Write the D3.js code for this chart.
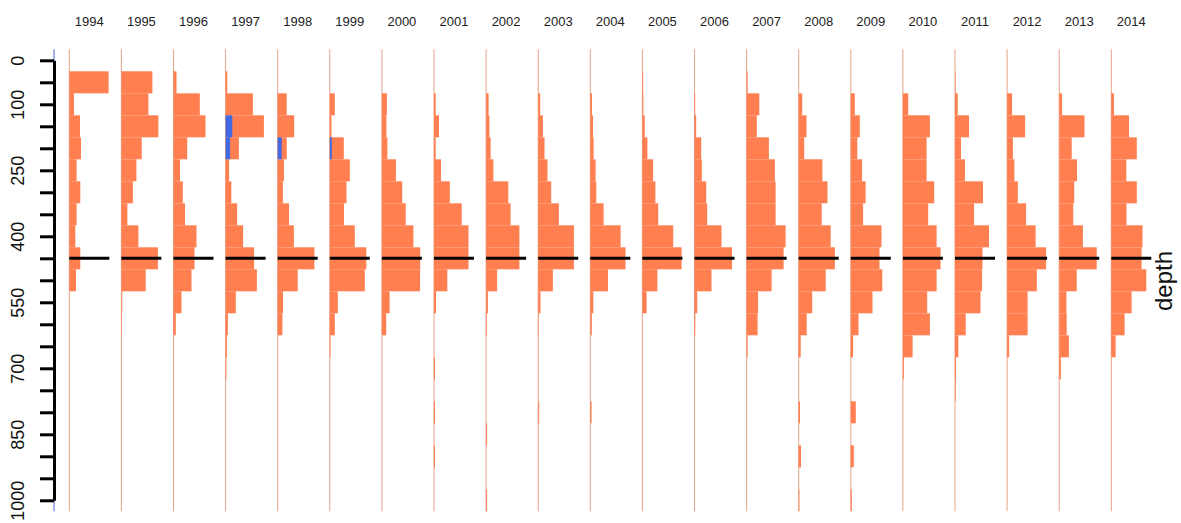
<!DOCTYPE html>
<html>
<head>
<meta charset="utf-8">
<script src="https://cdn.jsdelivr.net/npm/d3@7"></script>
<style>
  html, body { margin: 0; padding: 0; background: #ffffff; }
  svg { display: block; font-family: "Liberation Sans", Arial, Helvetica, sans-serif; }
</style>
</head>
<body>
<svg id="chart" width="1181" height="523"></svg>
<script>
// Survey years, one profile column each
const years = [1994, 1995, 1996, 1997, 1998, 1999, 2000, 2001, 2002, 2003, 2004,
               2005, 2006, 2007, 2008, 2009, 2010, 2011, 2012, 2013, 2014];

// Depth bin centres (m); each bin is 50 m tall
const depthBins = [50, 100, 150, 200, 250, 300, 350, 400, 450, 500,
                   550, 600, 650, 700, 750, 800, 850, 900, 950, 1000];

// Axis ticks and the subset that carries a label
const depthTicks = [0, 50, 100, 150, 200, 250, 300, 350, 400, 450, 500,
                    550, 600, 650, 700, 750, 800, 850, 900, 950, 1000];
const depthLabels = [0, 100, 250, 400, 550, 700, 850, 1000];

// Reference depth drawn across every column
const referenceDepth = 450;

// Relative abundance per depth bin, by year
const y1994 = [39.3, 4.7, 10.7, 11.7, 7.3, 11, 7.3, 6, 11, 6.7, 0, 0, 0, 0, 0, 0, 0, 0, 0, 0];
const y1995 = [31, 27, 37, 20.3, 15, 11.5, 6, 17, 36.5, 24.3, 0.8, 0.5, 0, 0, 0, 0, 0, 0, 0, 0];
const y1996 = [3, 26.3, 32, 13.7, 6.5, 9.3, 11.5, 23, 21, 18, 8, 2.3, 0, 0, 0, 0, 0, 0, 0, 0];
const y1997 = [1.7, 27.3, 38.3, 13.3, 3.5, 5.7, 11.5, 17.5, 28.5, 31.3, 10.2, 2.3, 1.3, 0.7, 0, 0, 0, 0, 0, 0];
const y1998 = [0, 9, 16.5, 9, 6.2, 5.2, 11.3, 16.2, 36.7, 20, 5.3, 4.7, 0, 0, 0, 0, 0, 0, 0, 0];
const y1999 = [0, 5, 1.7, 14, 20, 16.7, 14.2, 25, 36.5, 35, 8, 5, 0.7, 0, 0, 0, 0, 0, 0, 0];
const y2000 = [0, 5, 4.5, 5.5, 14, 20.3, 23.8, 31.5, 38.3, 38.2, 7.7, 4.3, 0, 0, 0, 0, 0, 0, 0, 0];
const y2001 = [0, 1.7, 5, 1.7, 7, 15.8, 27.7, 34.5, 34.5, 13.3, 2, 0, 0, 1, 0, 1, 0, 1, 0, 0];
const y2002 = [0, 2.5, 3.3, 4.5, 7.3, 22.2, 24.5, 33.3, 33.3, 11, 1.8, 0.7, 0, 0, 0, 0, 1, 0, 0, 1];
const y2003 = [0, 2, 4.7, 6.3, 9.3, 13, 20.7, 35.7, 35.7, 14.7, 2.3, 0.5, 0, 0, 0, 1, 0, 0, 0, 0];
const y2004 = [0, 1.7, 2.7, 3.3, 5.3, 6, 13.3, 30.3, 35.2, 17.7, 3, 1.5, 0, 0, 0, 1.3, 0, 0, 0, 0];
const y2005 = [0.7, 1, 2.3, 5, 10.7, 13, 15.8, 30.8, 39.2, 15, 4.2, 0, 0, 0, 0, 0, 0, 0, 0, 0];
const y2006 = [0, 0.7, 1.7, 6.7, 7.3, 11.7, 12.7, 27, 37.5, 17, 2.7, 0.8, 0, 0, 0, 0, 0, 0, 0, 0];
const y2007 = [1, 12.7, 10.2, 22.3, 28.3, 29, 29, 39, 37, 25, 11.5, 11, 1, 0, 0, 0, 0, 0, 0, 0];
const y2008 = [0, 3.5, 7.8, 5.5, 23.7, 28.8, 23, 32, 36.2, 27, 13.5, 8, 2, 0, 0, 1.3, 0, 2.3, 0, 0.7];
const y2009 = [0, 4, 9, 6.5, 11.2, 14.8, 12.3, 30.7, 28.7, 31.5, 21.7, 7.7, 2.3, 0, 0, 5, 0, 3, 0, 1];
const y2010 = [0, 5.3, 27, 23.7, 23.7, 31.3, 25.3, 33.7, 37.7, 33.7, 24.3, 27, 9.7, 1, 0, 0, 0, 0, 0, 0];
const y2011 = [0.5, 2.7, 14, 6, 10, 28, 19, 34, 27.5, 27, 25.5, 10.7, 3.3, 1, 0.7, 0, 0, 0, 0, 0];
const y2012 = [0, 5, 18, 5.8, 7.3, 10.7, 19, 28.5, 39, 29.7, 20.5, 20.5, 2, 0, 0, 0, 0, 0, 0, 0];
const y2013 = [0, 2.8, 25.3, 12.5, 17.8, 15, 14, 23.7, 37.5, 17.5, 7.2, 7.5, 9.7, 1.7, 0, 0, 0, 0, 0, 0];
const y2014 = [0, 2.7, 17.7, 25.5, 15, 25.5, 15.2, 31.2, 30.3, 35, 20.3, 13.3, 4.3, 0, 0, 0, 0, 0, 0, 0];

// Secondary component shown in blue (only present in a few years)
const marked1997 = [0, 0, 6.7, 4.5, 0, 0, 0, 0, 0, 0, 0, 0, 0, 0, 0, 0, 0, 0, 0, 0];
const marked1998 = [0, 0, 0, 4, 0, 0, 0, 0, 0, 0, 0, 0, 0, 0, 0, 0, 0, 0, 0, 0];
const marked1999 = [0, 0, 0, 2, 0, 0, 0, 0, 0, 0, 0, 0, 0, 0, 0, 0, 0, 0, 0, 0];

const profiles = [y1994, y1995, y1996, y1997, y1998, y1999, y2000, y2001, y2002, y2003, y2004,
                  y2005, y2006, y2007, y2008, y2009, y2010, y2011, y2012, y2013, y2014];
const markedByYear = new Map([[1997, marked1997], [1998, marked1998], [1999, marked1999]]);

const svg = d3.select("#chart");
const W = 1181, H = 523;
svg.append("rect").attr("width", W).attr("height", H).attr("fill", "#ffffff");

const binHalf = 25;
const axisX = 54;

// Depth runs downward
const y = d3.scaleLinear().domain([0, 1000]).range([60.3, 500.3]);

// Column baselines
const colX = d3.scalePoint().domain(years).range([69.3, 1111.3]);

// Bar length scale shared by every column
const colWidth = 40;
const w = d3.scaleLinear().domain([0, 40]).range([0, colWidth]);

const bandTop = y(0 - binHalf), bandBottom = y(1000 + binHalf);

// Thin blue guide along the axis
svg.append("line")
  .attr("x1", axisX).attr("x2", axisX)
  .attr("y1", bandTop).attr("y2", bandBottom)
  .attr("stroke", "#4a66d8").attr("stroke-width", 1);

// Depth axis
const axis = d3.axisLeft(y)
  .tickValues(depthTicks)
  .tickSize(14)
  .tickSizeOuter(0)
  .tickPadding(0)
  .tickFormat(d => depthLabels.includes(d) ? String(d) : "");

const gAxis = svg.append("g").attr("transform", `translate(${axisX},0)`).call(axis);
gAxis.select(".domain").attr("stroke", "#000").attr("stroke-width", 3);
gAxis.selectAll(".tick line").attr("stroke", "#000").attr("stroke-width", 3);
gAxis.selectAll(".tick text")
  .attr("x", null).attr("dy", null)
  .attr("text-anchor", "middle")
  .attr("font-size", 18)
  .attr("fill", "#111")
  .attr("transform", `translate(${24 - axisX},0) rotate(-90)`);

// One group per year
const cols = svg.selectAll("g.col")
  .data(years.map((yr, i) => ({ year: yr, values: profiles[i], marked: markedByYear.get(yr) })))
  .join("g")
  .attr("class", "col")
  .attr("transform", d => `translate(${colX(d.year)},0)`);

// Baseline of each column
cols.append("line")
  .attr("x1", 0).attr("x2", 0)
  .attr("y1", bandTop).attr("y2", bandBottom)
  .attr("stroke", "#e9a387").attr("stroke-width", 1);

// Profile bars
cols.selectAll("rect.bar")
  .data(d => d.values.map((v, j) => ({ depth: depthBins[j], v })).filter(e => e.v > 0))
  .join("rect")
  .attr("class", "bar")
  .attr("x", 0)
  .attr("y", d => y(d.depth - binHalf))
  .attr("width", d => w(d.v))
  .attr("height", d => y(d.depth + binHalf) - y(d.depth - binHalf))
  .attr("fill", "#ff7f50");

// Secondary component on top
cols.filter(d => d.marked)
  .selectAll("rect.mark")
  .data(d => d.marked.map((v, j) => ({ depth: depthBins[j], v })).filter(e => e.v > 0))
  .join("rect")
  .attr("class", "mark")
  .attr("x", 0)
  .attr("y", d => y(d.depth - binHalf))
  .attr("width", d => w(d.v))
  .attr("height", d => y(d.depth + binHalf) - y(d.depth - binHalf))
  .attr("fill", "#4169e1");

// Reference depth segment
cols.append("line")
  .attr("x1", 0).attr("x2", colWidth)
  .attr("y1", y(referenceDepth)).attr("y2", y(referenceDepth))
  .attr("stroke", "#000").attr("stroke-width", 3);

// Year labels
cols.append("text")
  .attr("x", colWidth / 2)
  .attr("y", 26)
  .attr("text-anchor", "middle")
  .attr("font-size", 13)
  .attr("fill", "#222")
  .text(d => d.year);

// Axis title on the right
svg.append("text")
  .attr("transform", `translate(1172,281) rotate(-90)`)
  .attr("text-anchor", "middle")
  .attr("font-size", 24)
  .attr("fill", "#111")
  .text("depth");
</script>
</body>
</html>
